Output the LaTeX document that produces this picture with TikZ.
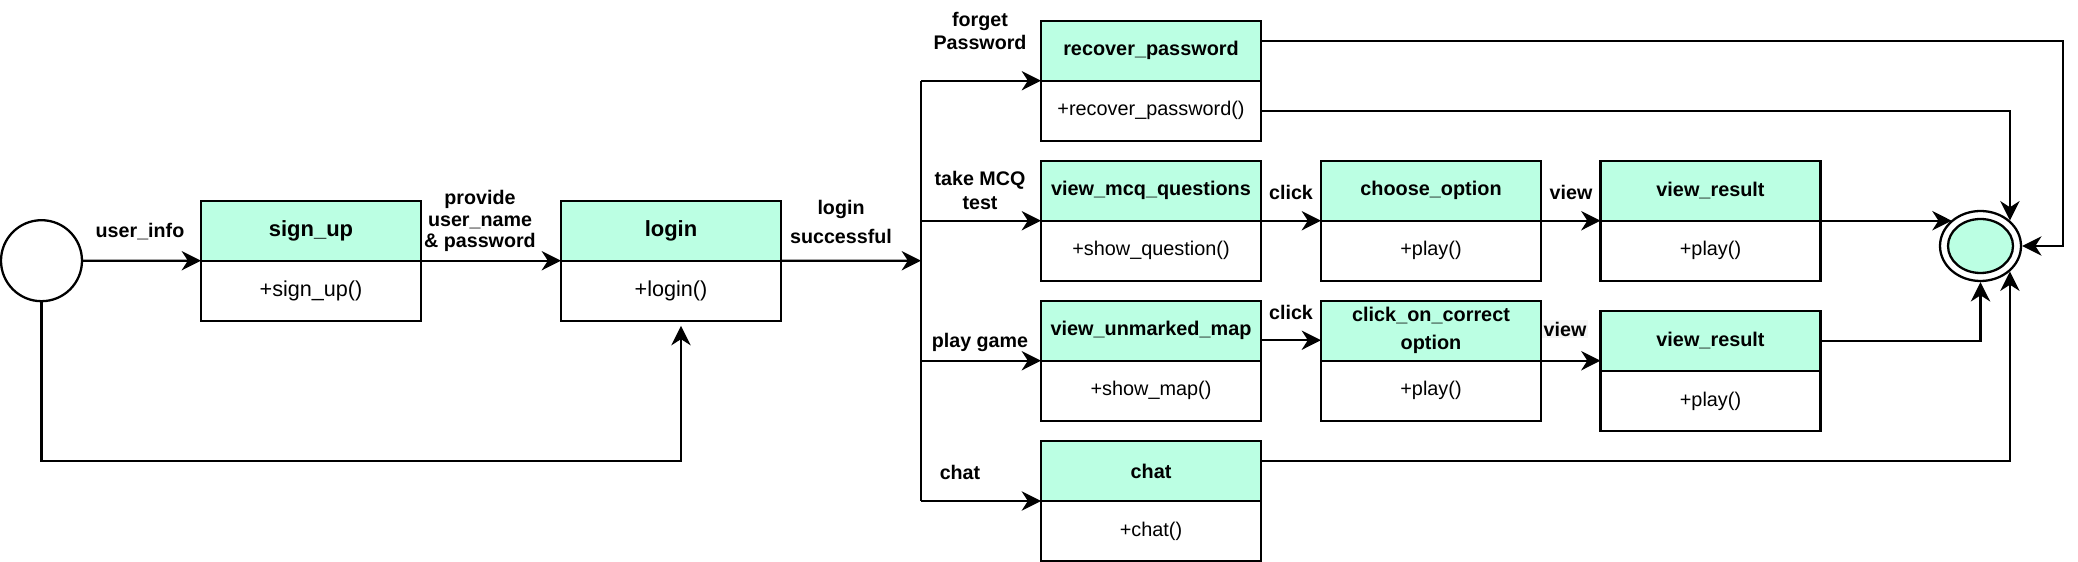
\documentclass[tikz,border=0pt]{standalone}
\usepackage{fontspec}
\setmainfont{Liberation Sans}
\usetikzlibrary{arrows.meta,positioning,calc,shapes.geometric}
\definecolor{ClassMint}{HTML}{BBFFE3}
\definecolor{ClassInk}{HTML}{000000}
\definecolor{LabelGray}{HTML}{F5F5F5}

\begin{document}
\begin{tikzpicture}[
  hdr/.style={draw=ClassInk,fill=ClassMint,line width=1.3pt,outer sep=0pt,minimum width=4.4cm,minimum height=1.2cm,inner sep=0pt,align=center,font=\fontsize{11.3}{16}\selectfont\bfseries},
  body/.style={draw=ClassInk,fill=white,line width=1.3pt,outer sep=0pt,minimum width=4.4cm,minimum height=1.2cm,inner sep=0pt,font=\fontsize{11.3}{13}\selectfont},
  hdrbig/.style={hdr,font=\fontsize{12.5}{15}\selectfont\bfseries},
  bodybig/.style={body,font=\fontsize{12.3}{15}\selectfont},
  lbl/.style={align=center,inner sep=1pt,font=\fontsize{11.2}{13.6}\selectfont\bfseries},
  line/.style={draw=ClassInk,line width=1.3pt},
  flow/.style={line,-{Stealth[length=11pt,width=11pt,inset=3.5pt]}}
]
\useasboundingbox (0,0) rectangle (41.56,-11.24);

% start and end states
\node[draw=ClassInk,circle,line width=1.3pt,minimum size=1.62cm,inner sep=0pt] (start) at (0.83,-5.214) {};
\node[draw=ClassInk,ellipse,line width=1.3pt,minimum width=1.62cm,minimum height=1.40cm,inner sep=0pt] (endo) at (39.61,-4.92) {};
\node[draw=ClassInk,ellipse,fill=ClassMint,line width=1.3pt,minimum width=1.30cm,minimum height=1.08cm,inner sep=0pt] (endi) at (endo) {};

% first row
\node[hdrbig] (signup) at (6.22,-4.614) {sign\_up};
\node[bodybig,below=0pt of signup] (signupb) {+sign\_up()};
\node[hdrbig] (login) at (13.42,-4.614) {login};
\node[bodybig,below=0pt of login] (loginb) {+login()};

% branches
\node[hdr] (recover) at (23.02,-1.014) {recover\_password};
\node[body,below=0pt of recover] (recoverb) {+recover\_password()};
\node[hdr] (mcq) at (23.02,-3.814) {view\_mcq\_questions};
\node[body,below=0pt of mcq] (mcqb) {+show\_question()};
\node[hdr] (choose) at (28.62,-3.814) {choose\_option};
\node[body,below=0pt of choose] (chooseb) {+play()};
\node[hdr] (result) at (34.21,-3.814) {view\_result};
\node[body,below=0pt of result] (resultb) {+play()};
\node[hdr] (map) at (23.02,-6.614) {view\_unmarked\_map};
\node[body,below=0pt of map] (mapb) {+show\_map()};
\node[hdr] (correct) at (28.62,-6.614) {click\_on\_correct\\option};
\node[body,below=0pt of correct] (correctb) {+play()};
\node[hdr] (resulttwo) at (34.21,-6.82) {view\_result};
\node[body,below=0pt of resulttwo] (resulttwob) {+play()};
\node[hdr] (chat) at (23.02,-9.42) {chat};
\node[body,below=0pt of chat] (chatb) {+chat()};

% labels
\node[lbl] (userinfo) at (2.80,-4.634) {user\_info};
\node[lbl,font=\fontsize{11.2}{12.4}\selectfont\bfseries] (provide) at (9.60,-4.42) {provide\\user\_name\\\& password};
\node[lbl,font=\fontsize{11.2}{17}\selectfont\bfseries] (success) at (16.82,-4.44) {login\\successful};
\node[lbl] (forget) at (19.60,-0.62) {forget\\Password};
\node[lbl] (takemcq) at (19.60,-3.81) {take MCQ\\test};
\node[lbl] (playgame) at (19.60,-6.84) {play game};
\node[lbl] (chatlbl) at (19.20,-9.44) {chat};
\node[lbl] (clickone) at (25.82,-3.84) {click};
\node[lbl] (viewone) at (31.42,-3.84) {view};
\node[lbl] (clicktwo) at (25.82,-6.24) {click};
\node[lbl,fill=LabelGray] (viewtwo) at (31.30,-6.58) {view};

% connectors
\coordinate (fork) at (18.42,-5.214);
\draw[flow] (start.east) -- (signup.south west);
\draw[flow] (signup.south east) -- (login.south west);
\draw[flow,shorten >=3pt] (start.south) |- ([xshift=0.2cm,yshift=-2.8cm]loginb.south) -- ([xshift=0.2cm]loginb.south);
\draw[flow] (login.south east) -- (fork);
\draw[line] (fork |- recover.south) -- (fork |- chat.south);
\draw[flow] (fork |- recover.south) -- (recover.south west);
\draw[flow] (fork |- mcq.south) -- (mcq.south west);
\draw[flow] (fork |- map.south) -- (map.south west);
\draw[flow] (fork |- chat.south) -- (chat.south west);
\draw[flow] (mcq.south east) -- (choose.south west);
\draw[flow] (choose.south east) -- (result.south west);
\draw[flow] ([yshift=-0.19cm]map.east) -- ([yshift=-0.19cm]correct.west);
\draw[flow] (correct.south east) -- (correct.south east -| resulttwo.west);
\draw[flow] (result.south east) -- (result.south east -| endo.138);
\draw[flow] (resulttwo.east) -| (endo.south);
\draw[flow] (recoverb.east) -| (endo.41);
\draw[flow] ([yshift=0.2cm]chat.east) -| (endo.-41);
\draw[flow] ([yshift=0.2cm]recover.east) -| ($(endo.east)+(0.82,0)$) -- (endo.east);
\end{tikzpicture}
\end{document}
